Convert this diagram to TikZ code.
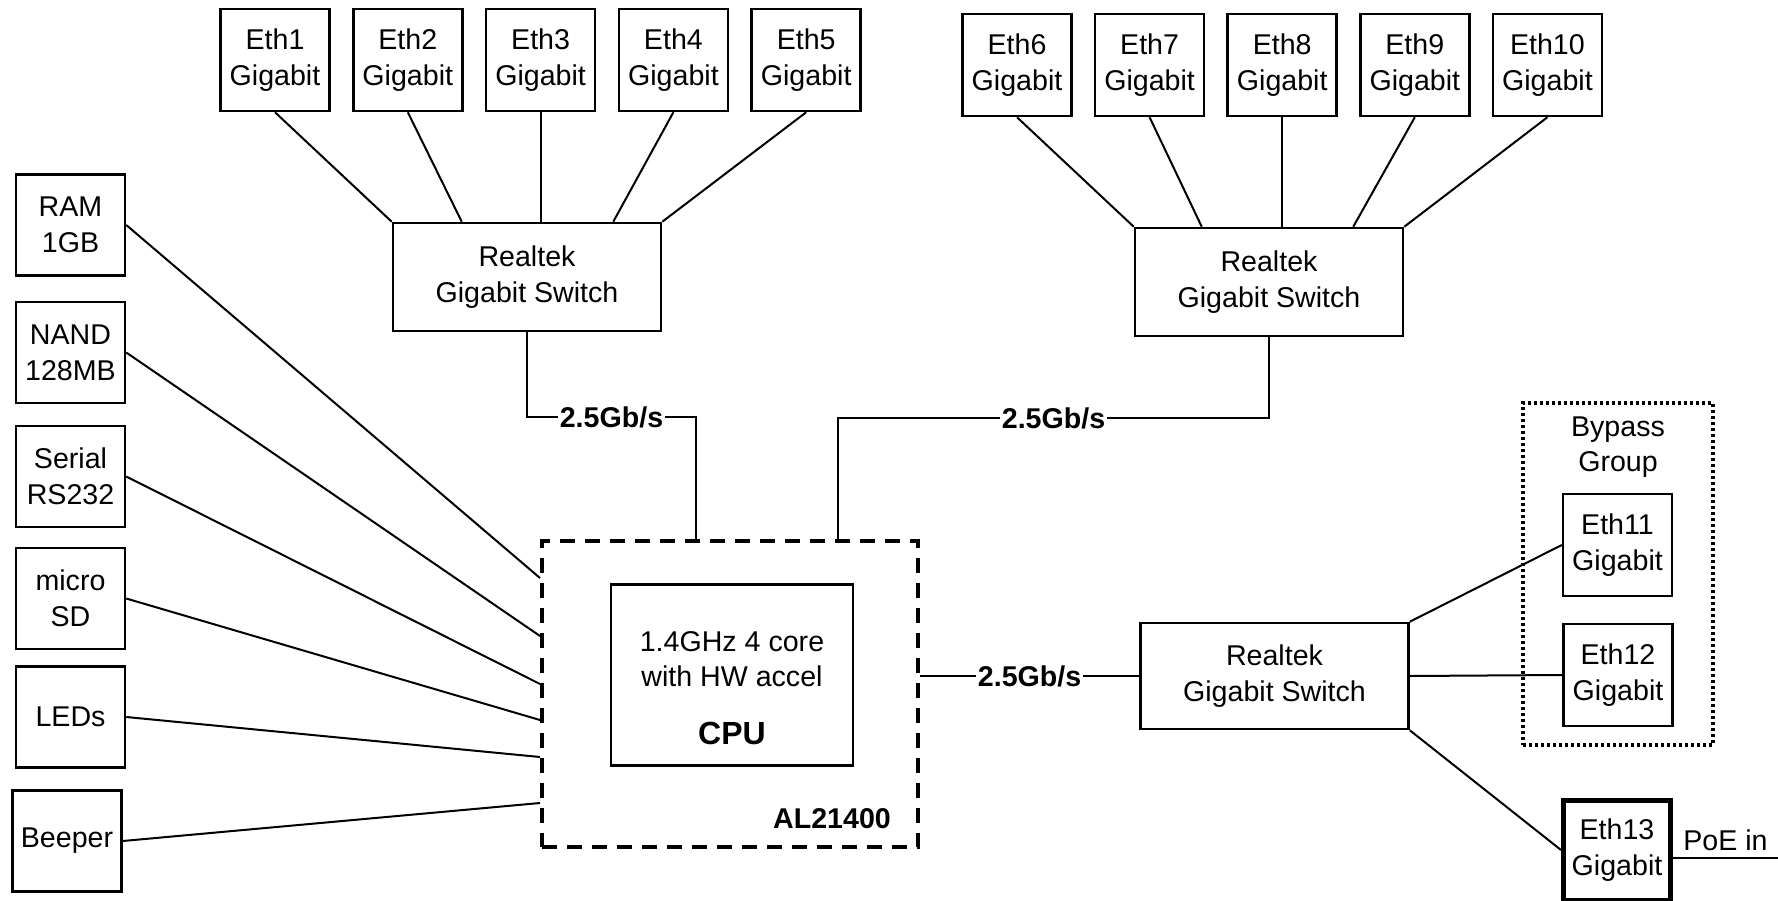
\documentclass[tikz,border=0pt]{standalone}
\usepackage{fontspec}
\setmainfont{Liberation Sans}
\usetikzlibrary{positioning}

\tikzset{
  every node/.style={font=\fontsize{14.3pt}{17.8pt}\selectfont},
  port/.style={draw, line width=1.25pt, minimum width=54.5pt, minimum height=51pt, align=center, inner sep=0pt},
  switch/.style={draw, line width=1.25pt, minimum width=134pt, minimum height=54pt, align=center},
  cpubox/.style={draw, line width=2pt, dash pattern=on 7.5pt off 5pt, minimum width=188pt, minimum height=153pt},
  groupbox/.style={draw, line width=1.6pt, dash pattern=on 1.5pt off 1.5pt, minimum width=95pt, minimum height=171pt},
  rate/.style={fill=white, inner sep=1pt, font=\fontsize{14.3pt}{17.8pt}\selectfont\bfseries},
  link/.style={line width=1pt},
}

\begin{document}
\begin{tikzpicture}[x=0.5pt, y=-0.5pt, node distance=10.65pt]
        \useasboundingbox (0,0) rectangle (1778,900);

        % first switch and its ports
        \node[port]              (e1) at (275,60) {Eth1\\Gigabit};
        \node[port, right=of e1] (e2) {Eth2\\Gigabit};
        \node[port, right=of e2] (e3) {Eth3\\Gigabit};
        \node[port, right=of e3] (e4) {Eth4\\Gigabit};
        \node[port, right=of e4] (e5) {Eth5\\Gigabit};
        \node[switch] (s1) at (527,277) {Realtek\\Gigabit Switch};

        % second switch and its ports
        \node[port]                      (e6)  at (1017,65) {Eth6\\Gigabit};
        \node[port, right=10.55pt of e6] (e7)  {Eth7\\Gigabit};
        \node[port, right=10.55pt of e7] (e8)  {Eth8\\Gigabit};
        \node[port, right=10.55pt of e8] (e9)  {Eth9\\Gigabit};
        \node[port, right=10.55pt of e9] (e10) {Eth10\\Gigabit};
        \node[switch] (s2) at (1269,282) {Realtek\\Gigabit Switch};

        % peripherals
        \node[port, minimum height=50.5pt]                        (ram)  at (70.5,225) {RAM\\1GB};
        \node[port, minimum height=50.5pt, below=12pt of ram]     (nand) {NAND\\128MB};
        \node[port, minimum height=50.5pt, below=10.25pt of nand] (ser)  {Serial\\RS232};
        \node[port, minimum height=50.5pt, below=9.25pt of ser]   (sd)   {micro\\SD};
        \node[port, minimum height=50.5pt, below=7.5pt of sd]     (led)  {LEDs};
        \node[port, minimum height=50.5pt, below=10.25pt of led, xshift=-1.75pt] (beep) {Beeper};

        % cpu
        \node[cpubox] (cpu) at (730,694) {};
        \node[draw, line width=1.25pt, minimum width=121pt, minimum height=90.5pt] (core) at (732,675) {};
        \node[align=center] (coretxt) at (732,688) {1.4GHz 4 core\\with HW accel\\[11pt]{\fontsize{16pt}{18pt}\selectfont\bfseries CPU}};
        \node[font=\fontsize{14.3pt}{17.8pt}\selectfont\bfseries] (soc) at (832,819) {AL21400};

        % third switch
        \node[switch, minimum height=53pt] (s3) at (1274.5,676) {Realtek\\Gigabit Switch};
        \node[groupbox] (grp) at (1618,574) {};
        \node[align=center] (grptxt) at (1618,447) {Bypass\\Group};
        \node[port] (e11) at (1617.5,545) {Eth11\\Gigabit};
        \node[port] (e12) at (1618,675) {Eth12\\Gigabit};
        \node[port, line width=2.5pt, minimum width=53.5pt, minimum height=50pt] (e13) at (1617,850) {Eth13\\Gigabit};
        \coordinate (poe) at (1778,858);

        \draw[link]
            (e1.south) edge (s1.north west)
            (e2.south) edge ([xshift=35pt]s1.north west)
            (e3.south) edge (e3.south |- s1.north)
            (e4.south) edge ([xshift=-24.5pt]s1.north east)
            (e5.south) edge (s1.north east)
            (e6.south) edge (s2.north west)
            (e7.south) edge ([xshift=34pt]s2.north west)
            (e8.south) edge (e8.south |- s2.north)
            (e9.south) edge ([xshift=-25.5pt]s2.north east)
            (e10.south) edge (s2.north east);

        \draw[link]
            (ram.east)  edge ([yshift=-19.5pt]cpu.north west)
            (nand.east) edge ([yshift=-48.5pt]cpu.north west)
            (ser.east)  edge ([yshift=-72.5pt]cpu.north west)
            (sd.east)   edge ([yshift=-90.5pt]cpu.north west)
            (led.east)  edge ([yshift=-109pt]cpu.north west)
            (beep.east) edge ([yshift=-132pt]cpu.north west);

        \draw[link] (s1.south) -- ++(0,85) -| node[rate, pos=0.25] {2.5Gb/s} ([xshift=78pt]cpu.north west);
        \draw[link] ([xshift=149pt]cpu.north west) -- ++(0,-121) -| node[rate, pos=0.25] {2.5Gb/s} (s2.south);
        \draw[link] ([yshift=9pt]cpu.east) -- node[rate] {2.5Gb/s} (s3.west);

        \draw[link]
            (s3.north east) edge (e11.west)
            (s3.east)       edge (e12.west)
            (s3.south east) edge (e13.west);
        \draw[link] ([yshift=-4pt]e13.east) -- node[above] {PoE in} (poe);
\end{tikzpicture}
\end{document}
